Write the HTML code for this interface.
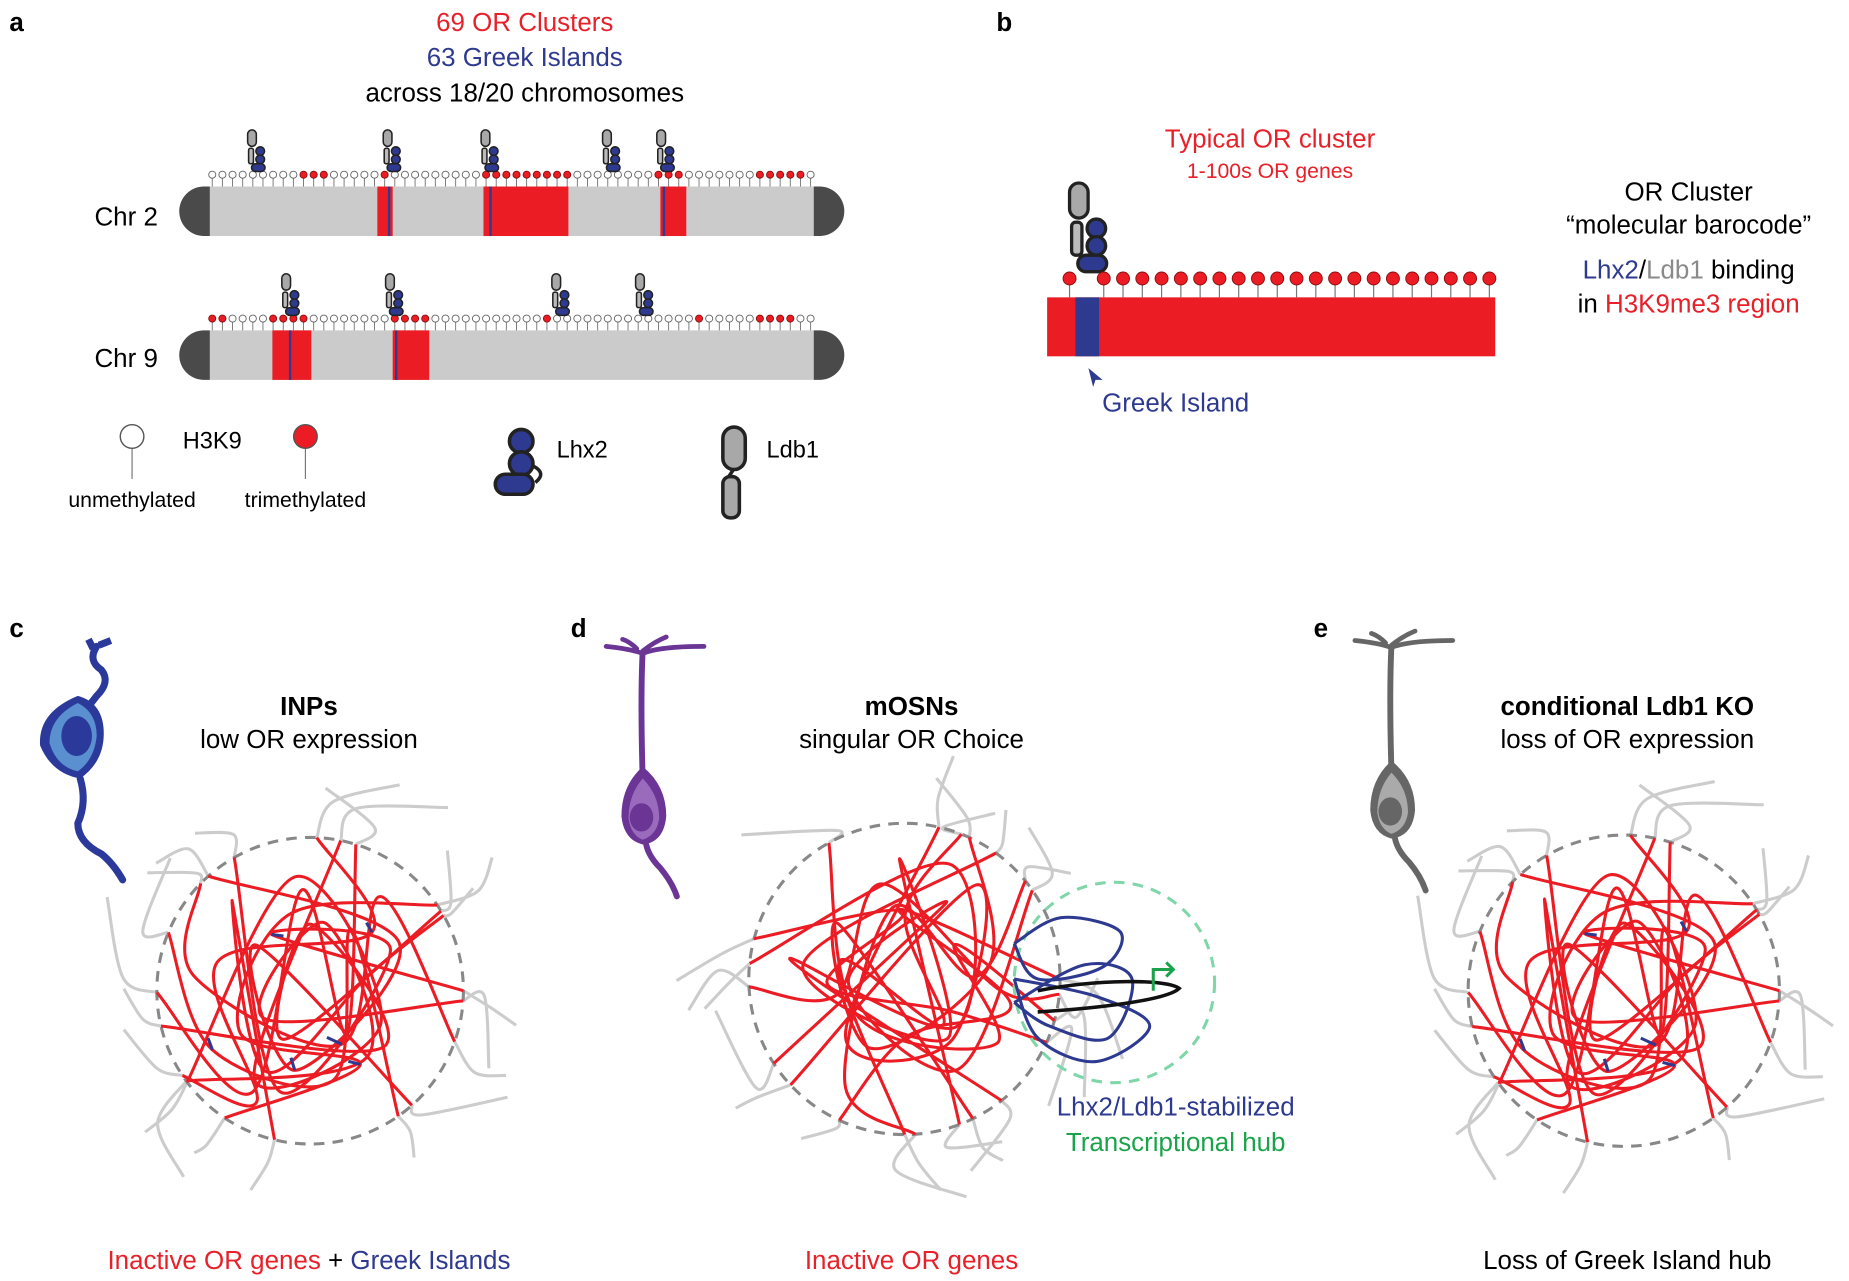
<!DOCTYPE html>
<html><head><meta charset="utf-8"><style>
html,body{margin:0;padding:0;background:#fff;}
svg{display:block;font-family:"Liberation Sans",Arial,sans-serif;}
</style></head><body>
<svg id="s" xmlns="http://www.w3.org/2000/svg" width="1849" height="1281" viewBox="0 0 1568 1086">
<g id="g"></g>
<g id="txt" font-size="22" text-anchor="middle">
<text x="8" y="26" font-weight="bold" text-anchor="start">a</text>
<text x="845" y="26" font-weight="bold" text-anchor="start">b</text>
<text x="8" y="540" font-weight="bold" text-anchor="start">c</text>
<text x="484" y="540" font-weight="bold" text-anchor="start">d</text>
<text x="1114" y="540" font-weight="bold" text-anchor="start">e</text>
<text x="445" y="26" fill="#e8202a">69 OR Clusters</text>
<text x="445" y="56" fill="#2e3a8f">63 Greek Islands</text>
<text x="445" y="86">across 18/20 chromosomes</text>
<text x="107" y="191">Chr 2</text>
<text x="107" y="311">Chr 9</text>
<text x="1077" y="125" fill="#e8202a">Typical OR cluster</text>
<text x="1077" y="151" fill="#e8202a" font-size="18">1-100s OR genes</text>
<text x="1432" y="170">OR Cluster</text>
<text x="1432" y="198">“molecular barocode”</text>
<text x="1432" y="236"><tspan fill="#2e3a8f">Lhx2</tspan>/<tspan fill="#8a8a8a">Ldb1</tspan> binding</text>
<text x="1432" y="265">in <tspan fill="#e8202a">H3K9me3 region</tspan></text>
<text x="997" y="349" fill="#2e3a8f">Greek Island</text>
<text x="262" y="606" font-weight="bold">INPs</text>
<text x="262" y="634">low OR expression</text>
<text x="773" y="606" font-weight="bold">mOSNs</text>
<text x="773" y="634">singular OR Choice</text>
<text x="1380" y="606" font-weight="bold">conditional Ldb1 KO</text>
<text x="1380" y="634">loss of OR expression</text>
<text x="262" y="1076"><tspan fill="#e8202a">Inactive OR genes</tspan> + <tspan fill="#2e3a8f">Greek Islands</tspan></text>
<text x="773" y="1076" fill="#e8202a">Inactive OR genes</text>
<text x="1380" y="1076">Loss of Greek Island hub</text>
<text x="997" y="946" fill="#2e3a8f">Lhx2/Ldb1-stabilized</text>
<text x="997" y="976" fill="#1aa34a">Transcriptional hub</text>
<text x="155" y="380" text-anchor="start" font-size="20">H3K9</text>
<text x="112" y="430" font-size="18">unmethylated</text>
<text x="259" y="430" font-size="18">trimethylated</text>
<text x="472" y="388" text-anchor="start" font-size="20">Lhx2</text>
<text x="650" y="388" text-anchor="start" font-size="20">Ldb1</text>
</g>
</svg>
<script>
var NS="http://www.w3.org/2000/svg",G=document.getElementById('g');
function el(t,a){var e=document.createElementNS(NS,t);for(var k in a)e.setAttribute(k,a[k]);G.appendChild(e);return e;}
var RED="#ec1c24",BLUE="#2e3a8f",DK="#4a4a4a",GR="#cccccc";
function chrom(y,reds,lolR){
 el('path',{d:'M178 '+y+' h-5 a21 21 0 0 0 0 42 h5 z',fill:DK});
 el('path',{d:'M690 '+y+' h5 a21 21 0 0 1 0 42 h-5 z',fill:DK});
 el('rect',{x:178,y:y,width:512,height:42,fill:"#cbcbcb"});
 reds.forEach(function(r){el('rect',{x:r[0],y:y,width:r[1]-r[0],height:42,fill:RED});el('rect',{x:r[2],y:y,width:2,height:42,fill:BLUE});});
 for(var i=0;i<60;i++){var x=180+i*8.6,red=false;lolR.forEach(function(r){if(x>=r[0]&&x<=r[1])red=true;});
  el('line',{x1:x,y1:y-9,x2:x,y2:y,stroke:"#777","stroke-width":0.8});
  el('circle',{cx:x,cy:y-10,r:3,fill:red?RED:"#fff",stroke:red?"#8a1010":"#666","stroke-width":0.8});}
}
chrom(158,[[320,333,329],[410,482,415],[560,582,562]],[[249,278],[318,328],[410,482],[558,582],[640,680]]);
chrom(280,[[231,264,245],[333,364,335]],[[178,190],[228,262],[330,368],[458,470],[542,547],[588,600],[636,676]]);
function prot(x,y,s){var g=document.createElementNS(NS,'g');g.setAttribute('transform','translate('+x+' '+y+') scale('+s+')');G.appendChild(g);
 var st='stroke="#222" stroke-width="1.6"';
 g.innerHTML='<rect x="0" y="0" width="9" height="17" rx="4.5" fill="#a8a8a8" '+st+'/><rect x="1" y="19" width="5" height="16" rx="2" fill="#bbb" '+st+'/><circle cx="13" cy="22" r="4.5" fill="'+BLUE+'" '+st+'/><circle cx="13" cy="30.5" r="4.5" fill="'+BLUE+'" '+st+'/><rect x="4" y="35" width="14" height="8" rx="4" fill="'+BLUE+'" '+st+'/>';}
[210,325,408,511,557].forEach(function(x){prot(x,110,0.82);});
[239,327,468,539].forEach(function(x){prot(x,232,0.82);});
prot(907,155,1.75);
el('rect',{x:888,y:252,width:380,height:50,fill:RED});el('rect',{x:912,y:252,width:20,height:50,fill:BLUE});
var bx=[907];for(var x=936;x<=1264;x+=16.35)bx.push(x);
bx.forEach(function(x){el('line',{x1:x,y1:240,x2:x,y2:252,stroke:"#777","stroke-width":1});el('circle',{cx:x,cy:236,r:5.5,fill:RED,stroke:"#8a1010","stroke-width":0.8});});
el('path',{d:'M923 312 l12 10 l-6 0 l-2 6 z',fill:BLUE});
el('line',{x1:112,y1:380,x2:112,y2:406,stroke:"#777","stroke-width":1});el('circle',{cx:112,cy:370,r:10,fill:"#fff",stroke:"#555","stroke-width":1.2});
el('line',{x1:259,y1:380,x2:259,y2:406,stroke:"#777","stroke-width":1});el('circle',{cx:259,cy:370,r:10,fill:RED,stroke:"#555","stroke-width":1.2});
(function(){var g=document.createElementNS(NS,'g');G.appendChild(g);var st='stroke="#222" stroke-width="3"';
g.innerHTML='<circle cx="442" cy="374" r="10" fill="'+BLUE+'" '+st+'/><circle cx="442" cy="393" r="10" fill="'+BLUE+'" '+st+'/><rect x="420" y="402" width="32" height="17" rx="8.5" fill="'+BLUE+'" '+st+'/><path d="M452 395 q12 6 2 14" fill="none" '+st+'/>'+
'<rect x="613" y="362" width="19" height="36" rx="9.5" fill="#a8a8a8" '+st+'/><path d="M622 398 l-4 6 l4 0" fill="none" '+st+'/><rect x="613" y="404" width="14" height="35" rx="6" fill="#a8a8a8" '+st+'/>';})();
(function(){var g=document.createElementNS(NS,'g');G.appendChild(g);
g.innerHTML='<path d="M82 548 q-8 12 4 20 q8 10 -4 22 q-6 8 -10 12" fill="none" stroke="#2b3a9a" stroke-width="6" stroke-linecap="round"/><path d="M75 542 l4 8 M84 547 l10 -4" stroke="#2b3a9a" stroke-width="6"/>'+
'<path d="M66 590 q22 6 22 32 q0 24 -20 38 q-24 -4 -34 -28 q-2 -28 32 -42z" fill="#2b3a9a"/><path d="M66 596 q16 8 16 28 q-2 20 -16 30 q-18 -4 -24 -24 q0 -22 24 -34z" fill="#5a8fd0"/><ellipse cx="65" cy="624" rx="13" ry="17" fill="#2b3a9a"/>'+
'<path d="M68 660 q6 20 -2 38 q0 16 20 26 q10 8 18 22" fill="none" stroke="#2b3a9a" stroke-width="6" stroke-linecap="round"/>'+
'<g id="nd"><path d="M545 552 q-2 40 0 108" fill="none" stroke="#6b3596" stroke-width="5"/><path d="M514 548 q20 2 31 6 q14 -6 52 -6 M545 552 q10 -8 20 -12 M540 550 q-6 -6 -12 -8" fill="none" stroke="#6b3596" stroke-width="4" stroke-linecap="round"/>'+
'<path d="M545 650 q-18 16 -18 42 q2 20 18 24 q18 -2 20 -24 q0 -26 -20 -42z" fill="#6b3596"/><path d="M545 660 q-12 14 -12 34 q2 14 12 18 q12 -4 14 -18 q0 -20 -14 -34z" fill="#9a6bbd"/><ellipse cx="544" cy="693" rx="10" ry="12" fill="#6b3596"/>'+
'<path d="M548 716 q2 10 12 20 q10 12 14 24" fill="none" stroke="#6b3596" stroke-width="5" stroke-linecap="round"/></g>';
var n=document.getElementById('nd').cloneNode(true);n.removeAttribute('id');n.setAttribute('transform','translate(635 -5)');
n.innerHTML=n.innerHTML.replace(/#6b3596/g,'#666').replace(/#9a6bbd/g,'#aaa');g.appendChild(n);})();
var seed=7;function rnd(){seed=(seed*16807)%2147483647;return seed/2147483647;}
function cr(p,closed){var d='M'+p[0][0].toFixed(1)+' '+p[0][1].toFixed(1),n=p.length;
 for(var i=0;i<(closed?n:n-1);i++){var p0=p[closed?(i-1+n)%n:Math.max(i-1,0)],p1=p[i],p2=p[(i+1)%n],p3=p[closed?(i+2)%n:Math.min(i+2,n-1)];
 d+=' C'+(p1[0]+(p2[0]-p0[0])/6).toFixed(1)+' '+(p1[1]+(p2[1]-p0[1])/6).toFixed(1)+' '+(p2[0]-(p3[0]-p1[0])/6).toFixed(1)+' '+(p2[1]-(p3[1]-p1[1])/6).toFixed(1)+' '+p2[0].toFixed(1)+' '+p2[1].toFixed(1);}
 return d;}
function tangle(cx,cy,r,nb){
 var greys=[],reds=[];
 for(var k=0;k<11;k++){var a1=rnd()*6.283,a2=a1+1.8+rnd()*2.6,pts=[];
  var s=[cx+r*Math.cos(a1),cy+r*Math.sin(a1)],e=[cx+r*Math.cos(a2),cy+r*Math.sin(a2)];pts.push(s);
  var ac=rnd()*6.283;
  for(var j=0;j<3;j++){var rr=r*(0.35+0.45*rnd());ac+=1.2+rnd()*1.5;pts.push([cx+rr*Math.cos(ac),cy+rr*Math.sin(ac)]);}
  pts.push(e);reds.push(pts);
  [[a1,s],[a2,e]].forEach(function(q){var a=q[0],l=r*(0.2+rnd()*0.3),b=a+(rnd()-0.5)*0.9;
   greys.push([q[1],[cx+(r+l*0.5)*Math.cos(a+(rnd()-0.5)*0.3),cy+(r+l*0.5)*Math.sin(a+(rnd()-0.5)*0.3)],[cx+(r+l)*Math.cos(b),cy+(r+l)*Math.sin(b)]]);});}
 greys.forEach(function(p){el('path',{d:cr(p),fill:"none",stroke:GR,"stroke-width":2.6});});
 el('circle',{cx:cx,cy:cy,r:r,fill:"none",stroke:"#888","stroke-width":2.6,"stroke-dasharray":"9 7"});
 reds.forEach(function(p){el('path',{d:cr(p),fill:"none",stroke:RED,"stroke-width":2.6});});
 for(var b=0;b<nb;b++){var p=reds[b%reds.length],a=p[1+b%3],c=p[2+b%3];el('path',{d:'M'+a[0]+' '+a[1]+' L'+(a[0]+(c[0]-a[0])*0.1)+' '+(a[1]+(c[1]-a[1])*0.1),stroke:BLUE,"stroke-width":2.6});}
}
tangle(263,840,130,6);seed=31;tangle(767,830,132,0);seed=7;tangle(1377,840,132,6);
el('circle',{cx:945,cy:833,r:85,fill:"none",stroke:"#7fd6a8","stroke-width":2.6,"stroke-dasharray":"9 7"});
[[[860,800],[900,778],[950,790],[935,820],[880,830]],[[860,850],[920,818],[960,830],[940,880],[890,870]],[[860,830],[930,845],[975,870],[930,900],[880,880]]].forEach(function(p){el('path',{d:cr(p.concat([p[0]]),false),fill:"none",stroke:BLUE,"stroke-width":2.6});});
el('path',{d:'M880 840 C930 830 990 830 1000 838 C990 848 930 855 880 858',fill:"none",stroke:"#111","stroke-width":3});
el('path',{d:'M978 840 v-18 h16 M989 816 l6 6 l-6 6',fill:"none",stroke:"#1aa34a","stroke-width":2.6});
document.getElementById('s').appendChild(document.getElementById('txt'));
</script>
</body></html>
